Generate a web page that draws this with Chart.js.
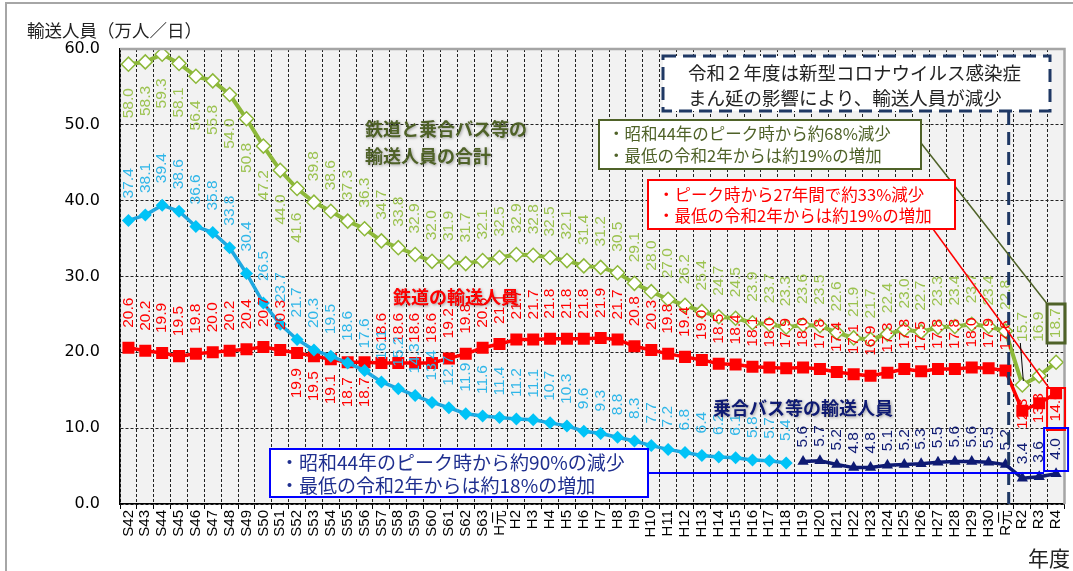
<!DOCTYPE html>
<html>
<head>
<meta charset="utf-8">
<script src="https://cdn.jsdelivr.net/npm/chart.js@4.4.0/dist/chart.umd.min.js"></script>
<style>
html,body{margin:0;padding:0;background:#fff;}
#wrap{position:relative;width:1073px;height:571px;}
</style>
</head>
<body>
<div id="wrap"><canvas id="c" width="1073" height="571"></canvas></div>
<script>
// ---- data (万人/日) ----
const categories = ['S42','S43','S44','S45','S46','S47','S48','S49','S50','S51','S52','S53','S54','S55','S56','S57','S58','S59','S60','S61','S62','S63',
  'H元','H2','H3','H4','H5','H6','H7','H8','H9','H10','H11','H12','H13','H14','H15','H16','H17','H18','H19','H20','H21','H22','H23','H24','H25','H26','H27','H28','H29','H30',
  'R元','R2','R3','R4'];
const totalRidership = [58.0,58.3,59.3,58.1,56.4,55.8,54.0,50.8,47.2,44.0,41.6,39.8,38.6,37.3,36.3,34.7,33.8,32.9,32.0,31.9,31.7,32.1,
  32.5,32.9,32.8,32.5,32.1,31.4,31.2,30.5,29.1,28.0,27.0,26.2,25.4,24.7,24.5,23.9,23.7,23.3,23.6,23.5,22.6,21.9,21.7,22.4,23.0,22.7,23.3,23.4,23.7,23.4,
  22.8,15.7,16.9,18.7];
const railRidership = [20.6,20.2,19.9,19.5,19.8,20.0,20.2,20.4,20.7,20.3,19.9,19.5,19.1,18.7,18.7,18.6,18.6,18.6,18.6,19.2,19.8,20.6,
  21.1,21.7,21.7,21.8,21.8,21.8,21.9,21.7,20.8,20.3,19.8,19.4,19.0,18.5,18.4,18.1,18.0,17.9,18.0,17.8,17.4,17.1,16.9,17.3,17.8,17.5,17.8,17.8,18.0,17.9,
  17.6,12.3,13.3,14.6];
// 乗合バス等 S42〜H18
const busRidershipEarly = [37.4,38.1,39.4,38.6,36.6,35.8,33.8,30.4,26.5,23.7,21.7,20.3,19.5,18.6,17.6,16.1,15.2,14.3,13.4,12.7,11.9,11.6,
  11.4,11.2,11.1,10.7,10.3,9.6,9.3,8.8,8.3,7.7,7.2,6.8,6.4,6.2,6.1,5.8,5.7,5.4];
// 乗合バス等 H19〜R4
const busRidershipLate = [5.6,5.7,5.2,4.8,4.8,5.1,5.2,5.3,5.5,5.6,5.6,5.5,5.2,3.4,3.6,4.0];
const yTickValues = [0,10,20,30,40,50,60];

const busEarlyFull = busRidershipEarly.concat(new Array(categories.length - busRidershipEarly.length).fill(null));
const busLateFull = new Array(categories.length - busRidershipLate.length).fill(null).concat(busRidershipLate);

const W = 1073, H = 571;
const numFont = '"DejaVu Sans", "Noto Sans CJK JP", sans-serif';
const lblFont = '"Liberation Sans", "Noto Sans CJK JP", sans-serif';
const jpFont = '"Noto Sans CJK JP", sans-serif';

const GREEN = '#8db83a', GREEN_T = '#9bc24f', OLIVE = '#4f6228';
const RED = '#ff0000';
const CYAN_L = '#1fa8e0', CYAN_P = '#00c3f7', CYAN_T = '#2fb6e8';
const NAVY = '#0e1a73';

// label placement styles (per dataset index)
const labelStyles = [
  {dataset:0, color:GREEN_T, gapAbove:21, gapBelow:24, below:i => i <= 10, gapFor:{53:43, 54:34, 55:24}},
  {dataset:2, color:RED, gapAbove:20, gapBelow:15, below:i => (i >= 10 && i <= 14) || i >= 53, gapFor:{53:-12, 54:-10, 55:-2}},
  {dataset:1, color:CYAN_T, gapAbove:22, gapBelow:15, below:i => false, gapFor:{}},
  {dataset:3, color:NAVY, gapAbove:14, gapBelow:15, below:i => false, gapFor:{}}
];

const valueLabels = {
  id:'valueLabels',
  afterDatasetsDraw(chart){
    const ctx = chart.ctx;
    ctx.save();
    ctx.font = '15.5px ' + lblFont;
    ctx.textBaseline = 'middle';
    labelStyles.forEach(st => {
      const meta = chart.getDatasetMeta(st.dataset);
      const data = chart.data.datasets[st.dataset].data;
      meta.data.forEach((el, i) => {
        const v = data[i];
        if (v === null || v === undefined) return;
        const below = st.below(i);
        let gap = below ? st.gapBelow : st.gapAbove;
        if (st.gapFor[i] !== undefined) gap = st.gapFor[i];
        ctx.save();
        ctx.translate(el.x, el.y);
        ctx.rotate(-Math.PI / 2);
        ctx.fillStyle = st.color;
        if (below) { ctx.textAlign = 'right'; ctx.fillText(v.toFixed(1), -gap, 0); }
        else { ctx.textAlign = 'left'; ctx.fillText(v.toFixed(1), gap, 0); }
        ctx.restore();
      });
    });
    ctx.restore();
  }
};

function box(ctx, x, y, w, h, stroke, lw, fill, dash){
  ctx.save();
  if (fill){ ctx.fillStyle = fill; ctx.fillRect(x, y, w, h); }
  ctx.strokeStyle = stroke; ctx.lineWidth = lw;
  ctx.setLineDash(dash || []);
  ctx.strokeRect(x, y, w, h);
  ctx.restore();
}
function line(ctx, x1, y1, x2, y2, color, lw, dash){
  ctx.save();
  ctx.strokeStyle = color; ctx.lineWidth = lw; ctx.setLineDash(dash || []);
  ctx.beginPath(); ctx.moveTo(x1, y1); ctx.lineTo(x2, y2); ctx.stroke();
  ctx.restore();
}
function text(ctx, s, x, y, font, color, shadow){
  ctx.save();
  ctx.font = font; ctx.fillStyle = color; ctx.textAlign = 'left'; ctx.textBaseline = 'middle';
  if (shadow){ ctx.shadowColor = 'rgba(0,0,0,0.35)'; ctx.shadowBlur = 3; ctx.shadowOffsetX = 1; ctx.shadowOffsetY = 1; }
  ctx.fillText(s, x, y);
  ctx.restore();
}

const deco = {
  id:'deco',
  beforeDraw(chart){
    const {ctx, chartArea:a} = chart;
    ctx.save();
    ctx.fillStyle = '#fff'; ctx.fillRect(0, 0, chart.width, chart.height);
    ctx.strokeStyle = '#a6a6a6'; ctx.lineWidth = 2;
    ctx.beginPath(); ctx.moveTo(6, H); ctx.lineTo(6, 3); ctx.lineTo(W, 3); ctx.stroke();
    ctx.fillStyle = '#f2f2f2'; ctx.fillRect(a.left, a.top, a.right - a.left, a.bottom - a.top);
    ctx.restore();
  },
  afterDraw(chart){
    const {ctx, chartArea:a, scales:{x}} = chart;
    // plot frame top / right
    ctx.save();
    ctx.strokeStyle = '#a5a5a5'; ctx.lineWidth = 2.5;
    ctx.beginPath(); ctx.moveTo(a.left, a.top); ctx.lineTo(a.right, a.top); ctx.lineTo(a.right, a.bottom); ctx.stroke();
    ctx.restore();

    // axis titles
    text(ctx, '輸送人員（万人／日）', 27, 30, '17.5px ' + jpFont, '#222');
    text(ctx, '年度', 1028, 558, '21px ' + jpFont, '#222');

    // series names
    text(ctx, '鉄道と乗合バス等の', 365, 129, 'bold 18px ' + jpFont, OLIVE, true);
    text(ctx, '輸送人員の合計', 365, 156, 'bold 18px ' + jpFont, OLIVE, true);
    text(ctx, '鉄道の輸送人員', 393, 297, 'bold 18px ' + jpFont, RED, true);
    text(ctx, '乗合バス等の輸送人員', 713, 408, 'bold 18px ' + jpFont, NAVY, true);

    // COVID divider
    const cw = (x.getPixelForValue(1) - x.getPixelForValue(0));
    const xd = x.getPixelForValue(52) + 0.19 * cw;
    line(ctx, xd, 112, xd, a.bottom, '#1f3864', 3, [13, 7]);
    box(ctx, 663, 56, 387, 55, '#1f3864', 3, '#fff', [13, 7]);
    text(ctx, '令和２年度は新型コロナウイルス感染症', 688, 73, '18.5px ' + jpFont, '#222');
    text(ctx, 'まん延の影響により、輸送人員が減少', 688, 98, '18.5px ' + jpFont, '#222');

    // leader lines
    const xr4 = x.getPixelForValue(55);
    line(ctx, 921, 143, xr4 - 8, 305, OLIVE, 1.5);
    line(ctx, 933, 229, xr4 - 7, 388, RED, 1.5);
    line(ctx, 648, 473, xr4 - 12, 473, '#0000ff', 2);
    line(ctx, x.getPixelForValue(53) - 2, 343, x.getPixelForValue(53) + 1, 381, '#000', 1);

    // callout boxes
    box(ctx, 599, 120, 322, 49, OLIVE, 2, '#fff');
    text(ctx, '・昭和44年のピーク時から約68%減少', 608, 134, '16.5px ' + jpFont, OLIVE);
    text(ctx, '・最低の令和2年からは約19%の増加', 608, 156, '16.5px ' + jpFont, OLIVE);

    box(ctx, 648, 180, 307, 49, RED, 2, '#fff');
    text(ctx, '・ピーク時から27年間で約33%減少', 658, 195, '16.5px ' + jpFont, RED);
    text(ctx, '・最低の令和2年からは約19%の増加', 658, 216, '16.5px ' + jpFont, RED);

    box(ctx, 270, 449, 378, 48, '#0000ff', 2, '#fff');
    text(ctx, '・昭和44年のピーク時から約90%の減少', 280, 463, '19px ' + jpFont, '#1f2f8f');
    text(ctx, '・最低の令和2年からは約18%の増加', 280, 486, '19px ' + jpFont, '#1f2f8f');

    // highlight boxes around R4 labels
    box(ctx, xr4 - 9, 304, 18, 39, OLIVE, 3);
    box(ctx, xr4 - 9, 388, 18, 42, RED, 2);
    box(ctx, xr4 - 12, 428, 24, 43, '#0000ff', 2);
  }
};

new Chart(document.getElementById('c'), {
  type:'line',
  data:{
    labels: categories,
    datasets:[
      {label:'鉄道と乗合バス等の輸送人員の合計', data: totalRidership, borderColor: GREEN, borderWidth: 4,
       pointStyle:'rectRot', pointRadius: 7, pointBackgroundColor:'#fff', pointBorderColor: GREEN, pointBorderWidth: 1.5},
      {label:'乗合バス等の輸送人員', data: busEarlyFull, borderColor: CYAN_L, borderWidth: 3.5,
       pointStyle:'rectRot', pointRadius: 6.5, pointBackgroundColor: CYAN_P, pointBorderColor: CYAN_P, pointBorderWidth: 0},
      {label:'鉄道の輸送人員', data: railRidership, borderColor: RED, borderWidth: 3.5,
       pointStyle:'rect', pointRadius: 8.5, pointBackgroundColor: RED, pointBorderColor: RED, pointBorderWidth: 0},
      {label:'乗合バス等の輸送人員（H19以降）', data: busLateFull, borderColor: NAVY, borderWidth: 3.5,
       pointStyle:'triangle', pointRadius: 6.5, pointBackgroundColor: NAVY, pointBorderColor: NAVY, pointBorderWidth: 0}
    ]
  },
  options:{
    responsive:false, animation:false, devicePixelRatio:1,
    layout:{padding:{left:0, top:49, right:5, bottom:0}},
    plugins:{legend:{display:false}, tooltip:{enabled:false}},
    elements:{line:{tension:0}},
    scales:{
      x:{
        type:'category', offset:true,
        grid:{offset:true, color:'#222', lineWidth:1, drawTicks:true, tickLength:5, tickColor:'#000', tickWidth:1},
        border:{display:true, color:'#000', width:1.5, dash:[3,2]},
        ticks:{autoSkip:false, minRotation:90, maxRotation:90, padding:1, color:'#000', font:{family:lblFont, size:15}},
        afterFit(s){ s.height = H - 504; s.paddingLeft = 0; s.paddingRight = 0; }
      },
      y:{
        min:0, max:60,
        afterBuildTicks(s){ s.ticks = yTickValues.map(v => ({value:v})); },
        grid:{color:'#222', lineWidth:1, drawTicks:false},
        border:{display:true, color:'#000', width:1.5, dash:[3,2]},
        ticks:{padding:20, color:'#000', font:{family:numFont, size:16}, callback:v => Number(v).toFixed(1)},
        afterFit(s){ s.width = 120; s.paddingTop = 0; s.paddingBottom = 0; }
      }
    }
  },
  plugins:[deco, valueLabels]
});
</script>
</body>
</html>
